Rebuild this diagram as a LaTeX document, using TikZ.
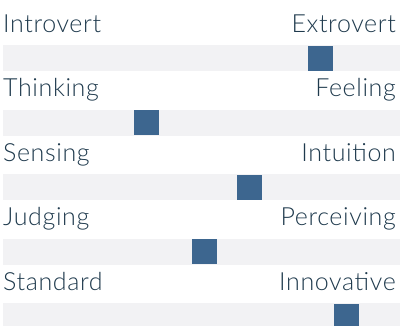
\documentclass[tikz,border=0pt]{standalone}
\usepackage{fontspec}
\setmainfont{Lato Light}[LetterSpace=2.5]
\usetikzlibrary{positioning}

\definecolor{trackgray}{HTML}{F2F2F4}
\definecolor{markblue}{HTML}{3D668F}
\definecolor{labelink}{HTML}{1F3A4D}

\tikzset{
  track/.style={fill=trackgray, draw=none, inner sep=0pt, minimum width=397pt, minimum height=26pt, anchor=north west},
  marker/.style={fill=markblue, draw=none, inner sep=0pt, minimum size=25pt, anchor=north west},
  poleleft/.style={text=labelink, inner sep=0pt, anchor=base west, font=\fontsize{25}{25}\selectfont},
  poleright/.style={poleleft, anchor=base east}
}

\begin{document}
\begin{tikzpicture}[x=1pt, y=-1pt]
  \useasboundingbox (0,0) rectangle (400,325);
  \foreach \lo/\hi/\pos [count=\i from 0] in {Introvert/Extrovert/308, Thinking/Feeling/134, Sensing/Intuition/237, Judging/Perceiving/192, Standard/Innovative/334}{
    \node (track\i) [track] at (3, 45+64.5*\i) {};
    \node (mark\i) [marker] at (\pos, 45.5+64.5*\i) {};
    \node (lo\i) [poleleft] at (3, 32+64.5*\i) {\lo};
    \node (hi\i) [poleright] at (396, 32+64.5*\i) {\hi};
  }
\end{tikzpicture}
\end{document}
